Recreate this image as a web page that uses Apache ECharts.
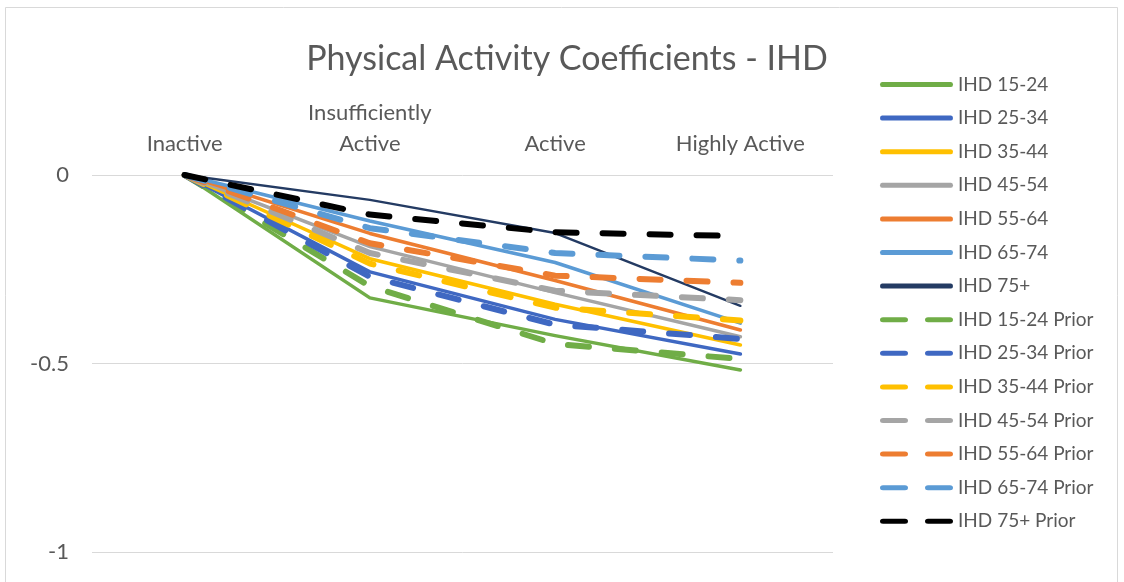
<!DOCTYPE html>
<html>
<head>
<meta charset="utf-8">
<title>Physical Activity Coefficients - IHD</title>
<script src="https://cdn.jsdelivr.net/npm/echarts@6/dist/echarts.min.js"></script>
<style>
  html, body { margin: 0; padding: 0; background: #ffffff; }
  #chart { width: 1124px; height: 582px; }
</style>
</head>
<body>
<div id="chart"></div>
<script>
// Activity levels along the top axis
const categories = ['Inactive', 'Insufficiently\nActive', 'Active', 'Highly Active'];

// Current coefficients by age group
const ihd1524 = [0, -0.326, -0.426, -0.517];
const ihd2534 = [0, -0.257, -0.383, -0.475];
const ihd3544 = [0, -0.222, -0.343, -0.451];
const ihd4554 = [0, -0.190, -0.312, -0.429];
const ihd5564 = [0, -0.155, -0.280, -0.411];
const ihd6574 = [0, -0.122, -0.232, -0.393];
const ihd75   = [0, -0.066, -0.154, -0.347];

// Prior coefficients by age group
const prior1524 = [0, -0.295, -0.448, -0.488];
const prior2534 = [0, -0.270, -0.397, -0.435];
const prior3544 = [0, -0.235, -0.352, -0.386];
const prior4554 = [0, -0.207, -0.307, -0.332];
const prior5564 = [0, -0.181, -0.267, -0.286];
const prior6574 = [0, -0.141, -0.207, -0.227];
const prior75   = [0, -0.105, -0.152, -0.162];

const yTicks = { min: -1, max: 0, step: 0.5 };

const FONT = 'Lato, "Open Sans", sans-serif';
const TEXT = '#595959';

// Legend swatches: a single rounded bar for current, two rounded dashes for prior
const SOLID_ICON = 'path://M2,0 L71,0 A2,2 0 0 1 71,4 L2,4 A2,2 0 0 1 2,0 Z';
const DASH_ICON = 'path://M3,0 L25,0 A3,3 0 0 1 25,6 L3,6 A3,3 0 0 1 3,0 Z ' +
                  'M48,0 L70,0 A3,3 0 0 1 70,6 L48,6 A3,3 0 0 1 48,0 Z';

const solid = [
  ['IHD 15-24', ihd1524, '#70AD47'],
  ['IHD 25-34', ihd2534, '#3F68C2'],
  ['IHD 35-44', ihd3544, '#FFC000'],
  ['IHD 45-54', ihd4554, '#A5A5A5'],
  ['IHD 55-64', ihd5564, '#ED7D31'],
  ['IHD 65-74', ihd6574, '#5B9BD5'],
  ['IHD 75+',   ihd75,   '#243B63']
];
const prior = [
  ['IHD 15-24 Prior', prior1524, '#70AD47'],
  ['IHD 25-34 Prior', prior2534, '#3F68C2'],
  ['IHD 35-44 Prior', prior3544, '#FFC000'],
  ['IHD 45-54 Prior', prior4554, '#A5A5A5'],
  ['IHD 55-64 Prior', prior5564, '#ED7D31'],
  ['IHD 65-74 Prior', prior6574, '#5B9BD5'],
  ['IHD 75+ Prior',   prior75,   '#000000']
];

const series = [];
const legendData = [];
solid.forEach(([name, data, color], i) => {
  series.push({
    name, type: 'line', data, symbol: 'none', color,
    lineStyle: { color, width: i === 6 ? 2.5 : 3.5, cap: 'round', join: 'round' },
    emphasis: { disabled: true }, z: 2 + i
  });
  legendData.push({ name, icon: SOLID_ICON, itemStyle: { color } });
});
prior.forEach(([name, data, color], i) => {
  series.push({
    name, type: 'line', data, symbol: 'none', color,
    lineStyle: { color, width: 6, type: [21, 26], cap: 'round', join: 'round' },
    emphasis: { disabled: true }, z: 10 + i
  });
  legendData.push({ name, icon: DASH_ICON, itemStyle: { color } });
});

const chart = echarts.init(document.getElementById('chart'), null, { renderer: 'canvas' });
chart.setOption({
  animation: false,
  backgroundColor: '#ffffff',
  title: {
    text: 'Physical Activity Coefficients - IHD',
    left: 562, top: 35, textAlign: 'center',
    textStyle: { fontFamily: FONT, fontSize: 34, fontWeight: 'normal', color: TEXT, lineHeight: 38 }
  },
  legend: {
    orient: 'vertical', left: 875, top: 70,
    itemWidth: 73, itemHeight: 5, itemGap: 14.6,
    symbolKeepAspect: false,
    data: legendData,
    textStyle: { fontFamily: FONT, fontSize: 19, color: TEXT, lineHeight: 19 },
    selectedMode: false
  },
  grid: { left: 92, right: 291, top: 175, bottom: 30, containLabel: false },
  xAxis: {
    type: 'category', position: 'top', data: categories, boundaryGap: true,
    axisLine: { show: false }, axisTick: { show: false },
    axisLabel: { fontFamily: FONT, fontSize: 22, color: TEXT, margin: 16, lineHeight: 31, interval: 0 }
  },
  yAxis: {
    type: 'value', min: yTicks.min, max: yTicks.max, interval: yTicks.step,
    axisLine: { show: false }, axisTick: { show: false },
    axisLabel: { fontFamily: FONT, fontSize: 22, color: TEXT, margin: 23 },
    splitLine: { lineStyle: { color: '#d9d9d9', width: 1 } }
  },
  graphic: [{
    type: 'rect', silent: true, z: -1,
    shape: { x: 5.5, y: 7.5, width: 1112, height: 620 },
    style: { fill: 'none', stroke: '#d9d9d9', lineWidth: 1 }
  }],
  series
});
</script>
</body>
</html>
